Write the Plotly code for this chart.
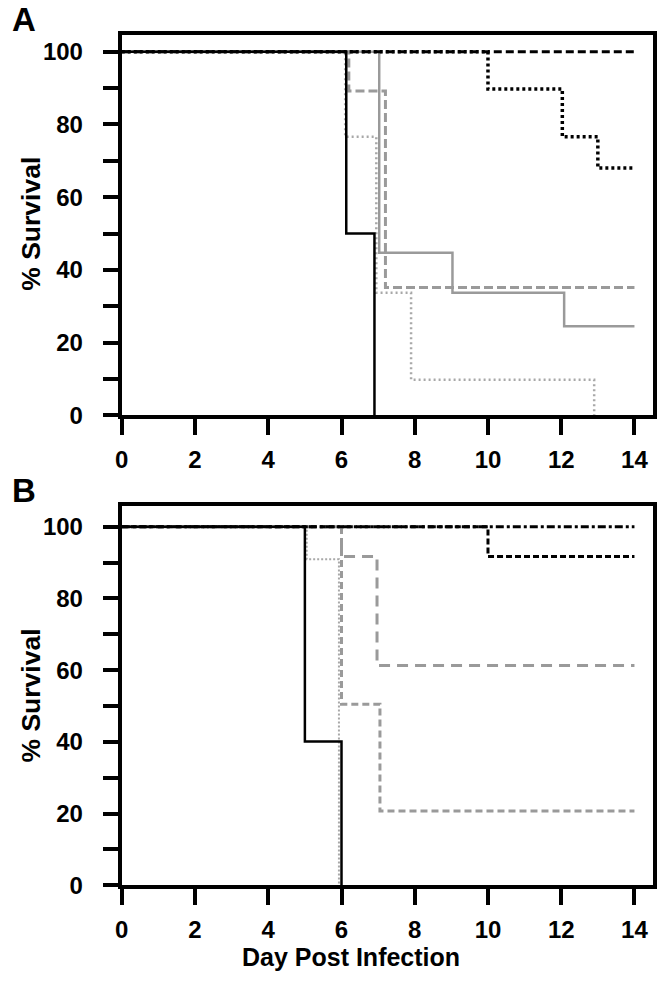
import plotly.graph_objects as go

# ---------------- data ----------------
# Panel A
A_black_solid_x = [0, 6.13, 6.9]
A_black_solid_y = [100, 50, 0]
A_black_dash_x = [0, 14]
A_black_dash_y = [100, 100]
A_black_dot_x = [0, 10.0, 12.03, 13.0, 14]
A_black_dot_y = [100, 89.7, 76.6, 68.0, 68.0]
A_gray_solid_x = [0, 7.03, 9.03, 12.08, 14]
A_gray_solid_y = [100, 44.7, 33.7, 24.5, 24.5]
A_gray_dash_x = [0, 6.2, 7.2, 14]
A_gray_dash_y = [100, 89.2, 35.2, 35.2]
A_gray_dot_x = [0, 6.1, 6.95, 7.9, 12.9]
A_gray_dot_y = [100, 76.6, 33.7, 9.8, 0]

# Panel B
B_black_solid_x = [0, 5.0, 6.0]
B_black_solid_y = [100, 40.1, 0]
B_black_dash_x = [0, 10.0, 14]
B_black_dash_y = [100, 91.7, 91.7]
B_black_dashdot_x = [0, 14]
B_black_dashdot_y = [100, 100]
B_gray_dot_x = [0, 5.05, 5.93]
B_gray_dot_y = [100, 90.9, 0]
B_gray_longdash_x = [0, 6.0, 6.97, 14]
B_gray_longdash_y = [100, 91.7, 61.3, 61.3]
B_gray_shortdash_x = [0, 6.0, 7.05, 14]
B_gray_shortdash_y = [100, 50.5, 20.7, 20.7]

x_ticks = [0, 2, 4, 6, 8, 10, 12, 14]
y_ticks = [0, 10, 20, 30, 40, 50, 60, 70, 80, 90, 100]
y_ticktext = ["0", "", "20", "", "40", "", "60", "", "80", "", "100"]

# ---------------- figure ----------------
W, H = 666, 990
FONT = "Liberation Sans, Arial, sans-serif"
GRAY = "#9a9a9a"
LGRAY = "#a8a8a8"

fig = go.Figure()

def add(x, y, color, width, dash, ax):
    fig.add_trace(go.Scatter(
        x=x, y=y, mode="lines", line=dict(color=color, width=width, dash=dash, shape="hv"),
        xaxis="x" if ax == 1 else "x2", yaxis="y" if ax == 1 else "y2",
        showlegend=False, hoverinfo="skip"))

# Panel A (gray first, black on top)
add(A_gray_dot_x, A_gray_dot_y, LGRAY, 2.5, "2px,3px", 1)
add(A_gray_dash_x, A_gray_dash_y, GRAY, 3, "9px,4px", 1)
add(A_gray_solid_x, A_gray_solid_y, GRAY, 2.5, "solid", 1)
add(A_black_dot_x, A_black_dot_y, "black", 3.5, "3px,3px", 1)
add(A_black_dash_x, A_black_dash_y, "black", 3, "8px,4px", 1)
add(A_black_solid_x, A_black_solid_y, "black", 2.5, "solid", 1)

# Panel B
add(B_gray_shortdash_x, B_gray_shortdash_y, GRAY, 3, "7px,4px", 2)
add(B_gray_longdash_x, B_gray_longdash_y, GRAY, 3, "11px,7px", 2)
add(B_gray_dot_x, B_gray_dot_y, LGRAY, 2, "2px,2px", 2)
add(B_black_dashdot_x, B_black_dashdot_y, "black", 3, "8px,3px,3px,3px", 2)
add(B_black_dash_x, B_black_dash_y, "black", 3, "6px,3px", 2)
add(B_black_solid_x, B_black_solid_y, "black", 2.5, "solid", 2)

def px_x(p):
    return p / W

def px_y(p):
    return 1 - p / H

xdom = [px_x(116), px_x(653)]
tickfont = dict(family=FONT, size=24, color="black", weight="bold")

xcommon = dict(range=[0, 14.51], tickvals=x_ticks, ticks="outside", ticklen=16, tickwidth=4,
               tickcolor="black", showline=True, linewidth=4, linecolor="black", mirror=True,
               showgrid=False, zeroline=False, tickfont=tickfont, domain=xdom,
               ticklabelstandoff=4)
ycommon = dict(tickvals=y_ticks, ticktext=y_ticktext, ticks="outside", ticklen=15, tickwidth=4,
               tickcolor="black", showline=True, linewidth=4, linecolor="black", mirror=True,
               showgrid=False, zeroline=False, tickfont=tickfont, ticklabelstandoff=15)

fig.update_layout(
    width=W, height=H,
    margin=dict(l=0, r=0, t=0, b=0),
    paper_bgcolor="white", plot_bgcolor="white",
    xaxis=dict(**xcommon, anchor="y"),
    yaxis=dict(**ycommon, range=[0, 104.7], domain=[px_y(421), px_y(35)], anchor="x"),
    xaxis2=dict(**xcommon, anchor="y2"),
    yaxis2=dict(**ycommon, range=[0, 105.7], domain=[px_y(897), px_y(513)], anchor="x2"),
)

lab = dict(family=FONT, size=25, color="black", weight="bold")
ylab = dict(family=FONT, size=26.5, color="black", weight="bold")
annots = [
    dict(text="A", x=px_x(17), y=px_y(20), xanchor="center", yanchor="middle",
         font=dict(family=FONT, size=33, color="black", weight="bold")),
    dict(text="B", x=px_x(17), y=px_y(497), xanchor="center", yanchor="middle",
         font=dict(family=FONT, size=33, color="black", weight="bold")),
    dict(text="% Survival", x=px_x(24), y=px_y(227), textangle=-90, xanchor="center",
         yanchor="middle", font=ylab),
    dict(text="% Survival", x=px_x(24), y=px_y(705), textangle=-90, xanchor="center",
         yanchor="middle", font=ylab),
    dict(text="Day Post Infection", x=px_x(348), y=px_y(970), xanchor="center",
         yanchor="middle", font=lab),
]
for a in annots:
    a.update(xref="paper", yref="paper", showarrow=False)
fig.update_layout(annotations=annots)

post = (
    "document.documentElement.style.margin='0px';"
    "document.body.style.margin='0px';"
    "document.body.style.overflow='hidden';"
    "var gd=document.getElementById('{plot_id}');"
    "gd.style.position='fixed';gd.style.left='0px';gd.style.top='0px';"
)
fig.write_html("out.html", post_script=post, config={"displayModeBar": False})
